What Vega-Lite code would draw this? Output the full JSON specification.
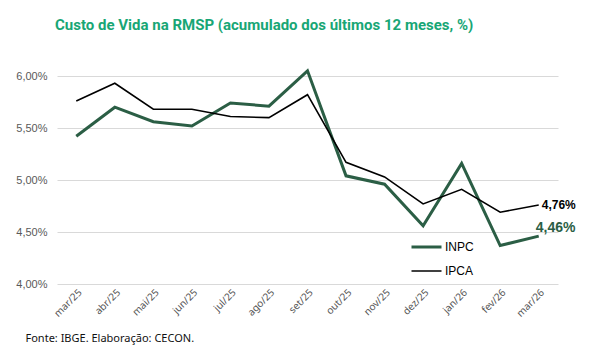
{
  "$schema": "https://vega.github.io/schema/vega-lite/v6.json",
  "width": 501,
  "height": 208,
  "autosize": {"type": "none"},
  "padding": {"left": 57, "top": 76, "right": 34, "bottom": 73},
  "background": "white",
  "title": {
    "text": "Custo de Vida na RMSP (acumulado dos últimos 12 meses, %)",
    "anchor": "start",
    "frame": "group",
    "offset": 41,
    "dy": 9,
    "dx": -2,
    "font": "Roboto",
    "fontSize": 15,
    "fontWeight": "bold",
    "color": "#18a675"
  },
  "data": {
    "values": [
      {"mes": "mar/25", "serie": "INPC", "valor": 5.42},
      {"mes": "abr/25", "serie": "INPC", "valor": 5.70},
      {"mes": "mai/25", "serie": "INPC", "valor": 5.56},
      {"mes": "jun/25", "serie": "INPC", "valor": 5.52},
      {"mes": "jul/25", "serie": "INPC", "valor": 5.74},
      {"mes": "ago/25", "serie": "INPC", "valor": 5.71},
      {"mes": "set/25", "serie": "INPC", "valor": 6.05},
      {"mes": "out/25", "serie": "INPC", "valor": 5.04},
      {"mes": "nov/25", "serie": "INPC", "valor": 4.96},
      {"mes": "dez/25", "serie": "INPC", "valor": 4.56},
      {"mes": "jan/26", "serie": "INPC", "valor": 5.16},
      {"mes": "fev/26", "serie": "INPC", "valor": 4.37},
      {"mes": "mar/26", "serie": "INPC", "valor": 4.46},
      {"mes": "mar/25", "serie": "IPCA", "valor": 5.76},
      {"mes": "abr/25", "serie": "IPCA", "valor": 5.93},
      {"mes": "mai/25", "serie": "IPCA", "valor": 5.68},
      {"mes": "jun/25", "serie": "IPCA", "valor": 5.68},
      {"mes": "jul/25", "serie": "IPCA", "valor": 5.61},
      {"mes": "ago/25", "serie": "IPCA", "valor": 5.60},
      {"mes": "set/25", "serie": "IPCA", "valor": 5.82},
      {"mes": "out/25", "serie": "IPCA", "valor": 5.17},
      {"mes": "nov/25", "serie": "IPCA", "valor": 5.03},
      {"mes": "dez/25", "serie": "IPCA", "valor": 4.77},
      {"mes": "jan/26", "serie": "IPCA", "valor": 4.91},
      {"mes": "fev/26", "serie": "IPCA", "valor": 4.69},
      {"mes": "mar/26", "serie": "IPCA", "valor": 4.76}
    ]
  },
  "encoding": {
    "x": {
      "field": "mes",
      "type": "ordinal",
      "sort": null,
      "scale": {"type": "point", "padding": 0.5},
      "axis": {
        "title": "Fonte: IBGE. Elaboração: CECON.",
        "titleAnchor": "start",
        "titleAlign": "left",
        "titleX": -32,
        "titleY": 57,
        "titleBaseline": "alphabetic",
        "titleFont": "Noto Sans",
        "titleFontSize": 11,
        "titleFontWeight": "normal",
        "titleColor": "#111111",
        "labelAngle": -45,
        "labelAlign": "right",
        "labelBaseline": "top",
        "labelPadding": 3,
        "labelFont": "Noto Sans",
        "labelFontSize": 10,
        "labelColor": "#555555",
        "ticks": false,
        "domain": false,
        "grid": false
      }
    },
    "y": {
      "field": "valor",
      "type": "quantitative",
      "scale": {"domain": [4, 6], "zero": false},
      "axis": {
        "title": null,
        "values": [4, 4.5, 5, 5.5, 6],
        "labelExpr": "replace(format(datum.value, '.2f'), '.', ',') + '%'",
        "labelFont": "Liberation Sans",
        "labelFontSize": 11,
        "labelColor": "#595959",
        "labelPadding": 10,
        "ticks": false,
        "domain": false,
        "grid": true,
        "gridColor": "#d9d9d9",
        "gridWidth": 1
      }
    }
  },
  "layer": [
    {
      "mark": {"type": "line", "clip": false},
      "encoding": {
        "color": {
          "field": "serie",
          "type": "nominal",
          "scale": {"domain": ["INPC", "IPCA"], "range": ["#2b5e45", "#000000"]},
          "legend": {
            "title": null,
            "orient": "none",
            "legendX": 353,
            "legendY": 159,
            "symbolType": "stroke",
            "symbolSize": 900,
            "clipHeight": 24,
            "labelFont": "Liberation Sans",
            "labelFontSize": 12,
            "labelColor": "#000000",
            "rowPadding": 0,
            "labelOffset": 2
          }
        },
        "strokeWidth": {
          "field": "serie",
          "type": "nominal",
          "scale": {"domain": ["INPC", "IPCA"], "range": [3, 1.6]},
          "legend": {
            "title": null,
            "orient": "none",
            "legendX": 353,
            "legendY": 159,
            "symbolType": "stroke",
            "symbolSize": 900,
            "clipHeight": 24,
            "labelFont": "Liberation Sans",
            "labelFontSize": 12,
            "labelColor": "#000000",
            "rowPadding": 0,
            "labelOffset": 2
          }
        }
      }
    },
    {
      "transform": [
        {"filter": "datum.mes === 'mar/26' && datum.serie === 'IPCA'"},
        {"calculate": "format(datum.valor, '.2f') + '%'", "as": "rotulo"}
      ],
      "mark": {"type": "text", "align": "left", "baseline": "middle", "dx": 3, "dy": 0, "font": "Liberation Sans", "fontSize": 12, "fontWeight": "bold", "color": "#000000"},
      "encoding": {
        "text": {"field": "rotulo", "type": "nominal"}
      }
    },
    {
      "transform": [
        {"filter": "datum.mes === 'mar/26' && datum.serie === 'INPC'"},
        {"calculate": "format(datum.valor, '.2f') + '%'", "as": "rotulo"}
      ],
      "mark": {"type": "text", "align": "left", "baseline": "middle", "dx": -3, "dy": -8, "font": "Liberation Sans", "fontSize": 14, "fontWeight": "bold", "color": "#2b5e45"},
      "encoding": {
        "text": {"field": "rotulo", "type": "nominal"}
      }
    }
  ],
  "config": {
    "view": {"stroke": null},
    "locale": {"number": {"decimal": ",", "thousands": ".", "grouping": [3], "currency": ["R$", ""], "percent": "%"}}
  }
}
